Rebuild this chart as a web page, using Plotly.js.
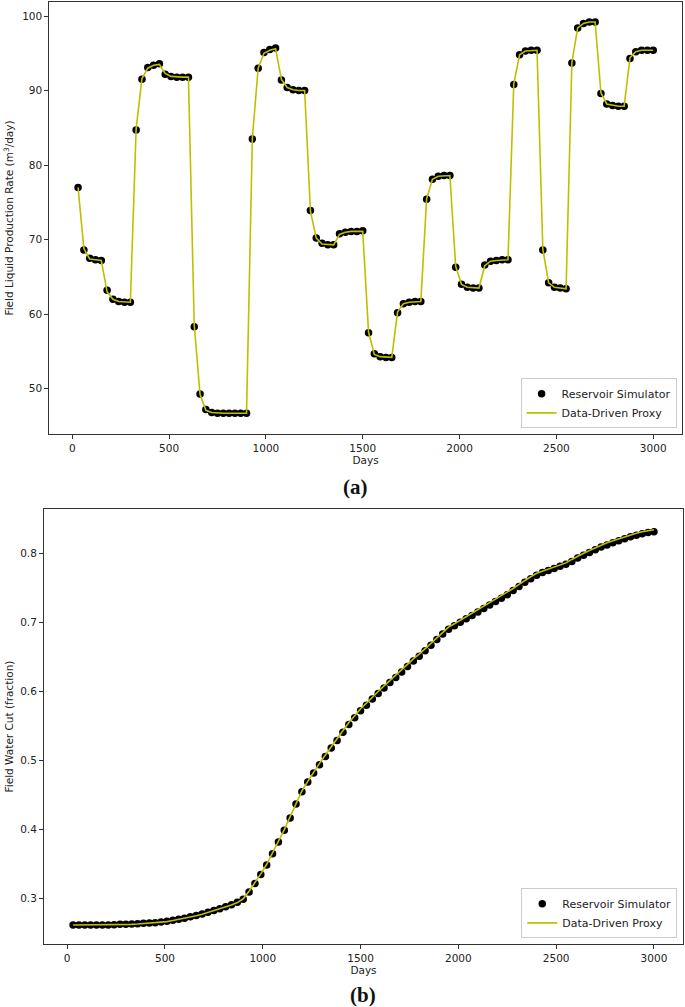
<!DOCTYPE html>
<html>
<head>
<meta charset="utf-8">
<script src="https://cdn.plot.ly/plotly-3.0.1.min.js"></script>
<style>
  html, body { margin: 0; padding: 0; background: #fff; }
  #chart { width: 685px; height: 1007px; }
</style>
</head>
<body>
<div id="chart"></div>
<script>
// ---------- DATA ----------
const days = [
  30, 60, 90, 120, 150, 180, 210, 240, 270, 300,
  330, 360, 390, 420, 450, 480, 510, 540, 570, 600,
  630, 660, 690, 720, 750, 780, 810, 840, 870, 900,
  930, 960, 990, 1020, 1050, 1080, 1110, 1140, 1170, 1200,
  1230, 1260, 1290, 1320, 1350, 1380, 1410, 1440, 1470, 1500,
  1530, 1560, 1590, 1620, 1650, 1680, 1710, 1740, 1770, 1800,
  1830, 1860, 1890, 1920, 1950, 1980, 2010, 2040, 2070, 2100,
  2130, 2160, 2190, 2220, 2250, 2280, 2310, 2340, 2370, 2400,
  2430, 2460, 2490, 2520, 2550, 2580, 2610, 2640, 2670, 2700,
  2730, 2760, 2790, 2820, 2850, 2880, 2910, 2940, 2970, 3000
];

// Field liquid production rate (m3/day)
const rateSimulator = [
  77.0, 68.6, 67.5, 67.3, 67.2,   63.2, 62.0, 61.7, 61.6, 61.6,
  84.7, 91.5, 93.1, 93.4, 93.6,   92.2, 91.9, 91.8, 91.8, 91.8,
  58.3, 49.3, 47.2, 46.8, 46.7,   46.7, 46.7, 46.7, 46.7, 46.7,
  83.5, 93.0, 95.1, 95.5, 95.7,   91.4, 90.4, 90.1, 90.0, 90.0,
  73.9, 70.2, 69.5, 69.3, 69.3,   70.8, 71.0, 71.1, 71.1, 71.2,
  57.5, 54.7, 54.3, 54.2, 54.2,   60.2, 61.4, 61.6, 61.7, 61.7,
  75.4, 78.1, 78.5, 78.6, 78.6,   66.3, 64.0, 63.6, 63.5, 63.5,
  66.6, 67.1, 67.2, 67.3, 67.3,   90.8, 94.8, 95.3, 95.4, 95.4,
  68.6, 64.2, 63.6, 63.5, 63.4,   93.7, 98.4, 99.0, 99.2, 99.2,
  89.6, 88.2, 88.0, 87.9, 87.9,   94.3, 95.2, 95.4, 95.4, 95.4
];
const rateProxy = [
  77.0, 68.8, 67.4, 67.3, 67.2,   63.0, 62.0, 61.7, 61.6, 61.6,
  84.9, 91.6, 93.0, 93.4, 93.5,   92.3, 91.9, 91.8, 91.8, 91.8,
  58.5, 49.2, 47.1, 46.8, 46.7,   46.7, 46.7, 46.7, 46.7, 46.7,
  83.6, 93.0, 95.0, 95.4, 95.6,   91.5, 90.4, 90.1, 90.0, 90.0,
  73.8, 70.2, 69.4, 69.3, 69.3,   70.7, 71.0, 71.1, 71.1, 71.1,
  57.6, 54.6, 54.3, 54.2, 54.2,   60.3, 61.4, 61.6, 61.7, 61.7,
  75.5, 78.1, 78.5, 78.6, 78.6,   66.4, 64.0, 63.6, 63.5, 63.5,
  66.5, 67.1, 67.2, 67.3, 67.3,   90.9, 94.8, 95.3, 95.4, 95.4,
  68.7, 64.2, 63.6, 63.5, 63.4,   93.8, 98.4, 99.0, 99.2, 99.2,
  89.7, 88.2, 88.0, 87.9, 87.9,   94.4, 95.2, 95.4, 95.4, 95.4
];

// Field water cut (fraction)
const wcutSimulator = [
  0.262, 0.262, 0.262, 0.262, 0.262, 0.262, 0.262, 0.2625, 0.263, 0.263,
  0.2635, 0.264, 0.2645, 0.265, 0.2655, 0.2665, 0.2675, 0.269, 0.2705, 0.272,
  0.274, 0.276, 0.278, 0.2805, 0.283, 0.2855, 0.2885, 0.2915, 0.295, 0.2995,
  0.310, 0.322, 0.335, 0.349, 0.365, 0.382, 0.399, 0.417, 0.437, 0.455,
  0.469, 0.482, 0.494, 0.506, 0.518, 0.529, 0.541, 0.552, 0.562, 0.572,
  0.580, 0.589, 0.597, 0.605, 0.613, 0.620, 0.628, 0.636, 0.644, 0.651,
  0.659, 0.667, 0.675, 0.683, 0.690, 0.695, 0.700, 0.705, 0.710, 0.715,
  0.720, 0.725, 0.730, 0.735, 0.740, 0.746, 0.752, 0.758, 0.763, 0.768,
  0.772, 0.775, 0.778, 0.781, 0.784, 0.788, 0.793, 0.797, 0.801, 0.805,
  0.809, 0.812, 0.815, 0.818, 0.821, 0.824, 0.826, 0.828, 0.830, 0.831
];
const wcutProxy = [
  0.262, 0.262, 0.262, 0.262, 0.262, 0.262, 0.262, 0.262, 0.262, 0.262,
  0.263, 0.2635, 0.264, 0.2645, 0.265, 0.266, 0.267, 0.2685, 0.270, 0.2715,
  0.2735, 0.2755, 0.2775, 0.280, 0.2825, 0.285, 0.288, 0.291, 0.2945, 0.300,
  0.311, 0.323, 0.336, 0.350, 0.366, 0.383, 0.400, 0.419, 0.438, 0.456,
  0.470, 0.484, 0.496, 0.508, 0.520, 0.531, 0.543, 0.555, 0.565, 0.575,
  0.583, 0.592, 0.600, 0.608, 0.616, 0.623, 0.631, 0.639, 0.647, 0.654,
  0.662, 0.670, 0.678, 0.686, 0.693, 0.698, 0.703, 0.708, 0.713, 0.718,
  0.723, 0.728, 0.733, 0.738, 0.743, 0.749, 0.755, 0.761, 0.766, 0.771,
  0.774, 0.777, 0.780, 0.783, 0.786, 0.791, 0.796, 0.800, 0.804, 0.808,
  0.812, 0.815, 0.818, 0.821, 0.824, 0.827, 0.829, 0.831, 0.833, 0.834
];

const xTicks = [0, 500, 1000, 1500, 2000, 2500, 3000];
const rateTicks = [50, 60, 70, 80, 90, 100];
const wcutTicks = [0.3, 0.4, 0.5, 0.6, 0.7, 0.8];

const simName = 'Reservoir Simulator';
const proxyName = 'Data-Driven Proxy';

// ---------- STYLE ----------
const FONT = 'DejaVu Sans, Liberation Sans, Arial, sans-serif';
const TXT = '#222';
const AX = '#333';
const PROXY_COLOR = '#bfbf00';

const traces = [
  { x: days, y: rateSimulator, type: 'scatter', mode: 'markers', name: simName,
    xaxis: 'x', yaxis: 'y', legend: 'legend',
    marker: { color: '#000', size: 7.5 } },
  { x: days, y: rateProxy, type: 'scatter', mode: 'lines', name: proxyName,
    xaxis: 'x', yaxis: 'y', legend: 'legend',
    line: { color: PROXY_COLOR, width: 1.6 } },
  { x: days, y: wcutSimulator, type: 'scatter', mode: 'markers', name: simName,
    xaxis: 'x2', yaxis: 'y2', legend: 'legend2',
    marker: { color: '#000', size: 7.5 } },
  { x: days, y: wcutProxy, type: 'scatter', mode: 'lines', name: proxyName,
    xaxis: 'x2', yaxis: 'y2', legend: 'legend2',
    line: { color: PROXY_COLOR, width: 1.6 } }
];

function axisBase() {
  return {
    showline: true, mirror: true, linecolor: AX, linewidth: 1,
    ticks: 'outside', ticklen: 4, tickwidth: 1, tickcolor: AX,
    showgrid: false, zeroline: false,
    tickfont: { family: FONT, size: 10.5, color: TXT }
  };
}

const layout = {
  width: 685, height: 1007,
  margin: { l: 44, r: 2, t: 2, b: 63 },
  paper_bgcolor: '#fff', plot_bgcolor: '#fff',
  font: { family: FONT, color: TXT },
  xaxis: Object.assign(axisBase(), {
    domain: [0.0083, 0.9984], anchor: 'y',
    range: [-118.5, 3148.5], tickmode: 'array', tickvals: xTicks,
    title: { text: 'Days', font: { family: FONT, size: 10.5, color: TXT }, standoff: 4 }
  }),
  yaxis: Object.assign(axisBase(), {
    domain: [0.5414, 1], anchor: 'x',
    range: [43.92, 101.88], tickmode: 'array', tickvals: rateTicks,
    title: { text: 'Field Liquid Production Rate (m<sup>3</sup>/day)',
             font: { family: FONT, size: 10.5, color: TXT }, standoff: 6 }
  }),
  xaxis2: Object.assign(axisBase(), {
    domain: [0, 1], anchor: 'y2',
    range: [-118.5, 3148.5], tickmode: 'array', tickvals: xTicks,
    title: { text: 'Days', font: { family: FONT, size: 10.5, color: TXT }, standoff: 4 }
  }),
  yaxis2: Object.assign(axisBase(), {
    domain: [0, 0.4618], anchor: 'x2',
    range: [0.2346, 0.864], tickmode: 'array', tickvals: wcutTicks,
    tickformat: '.1f',
    title: { text: 'Field Water Cut (fraction)',
             font: { family: FONT, size: 10.5, color: TXT }, standoff: 4 }
  }),
  legend: {
    x: 0.990, y: 0.5474, xanchor: 'right', yanchor: 'bottom',
    bgcolor: 'rgba(255,255,255,0.9)', bordercolor: '#ccc', borderwidth: 1,
    font: { family: FONT, size: 11, color: TXT },
    tracegroupgap: 0, itemwidth: 30
  },
  legend2: {
    x: 0.991, y: 0.006, xanchor: 'right', yanchor: 'bottom',
    bgcolor: 'rgba(255,255,255,0.9)', bordercolor: '#ccc', borderwidth: 1,
    font: { family: FONT, size: 11, color: TXT },
    tracegroupgap: 0, itemwidth: 30
  },
  showlegend: true,
  annotations: [
    { text: '<b>(a)</b>', xref: 'paper', yref: 'paper', x: 0.4867, y: 0.4851,
      xanchor: 'center', yanchor: 'middle', showarrow: false,
      font: { family: 'Liberation Serif, Times New Roman, serif', size: 21, color: '#111' } },
    { text: '<b>(b)</b>', xref: 'paper', yref: 'paper', x: 0.4992, y: -0.054,
      xanchor: 'center', yanchor: 'middle', showarrow: false,
      font: { family: 'Liberation Serif, Times New Roman, serif', size: 21, color: '#111' } }
  ]
};

Plotly.newPlot('chart', traces, layout, { staticPlot: true, displayModeBar: false });
</script>
</body>
</html>
